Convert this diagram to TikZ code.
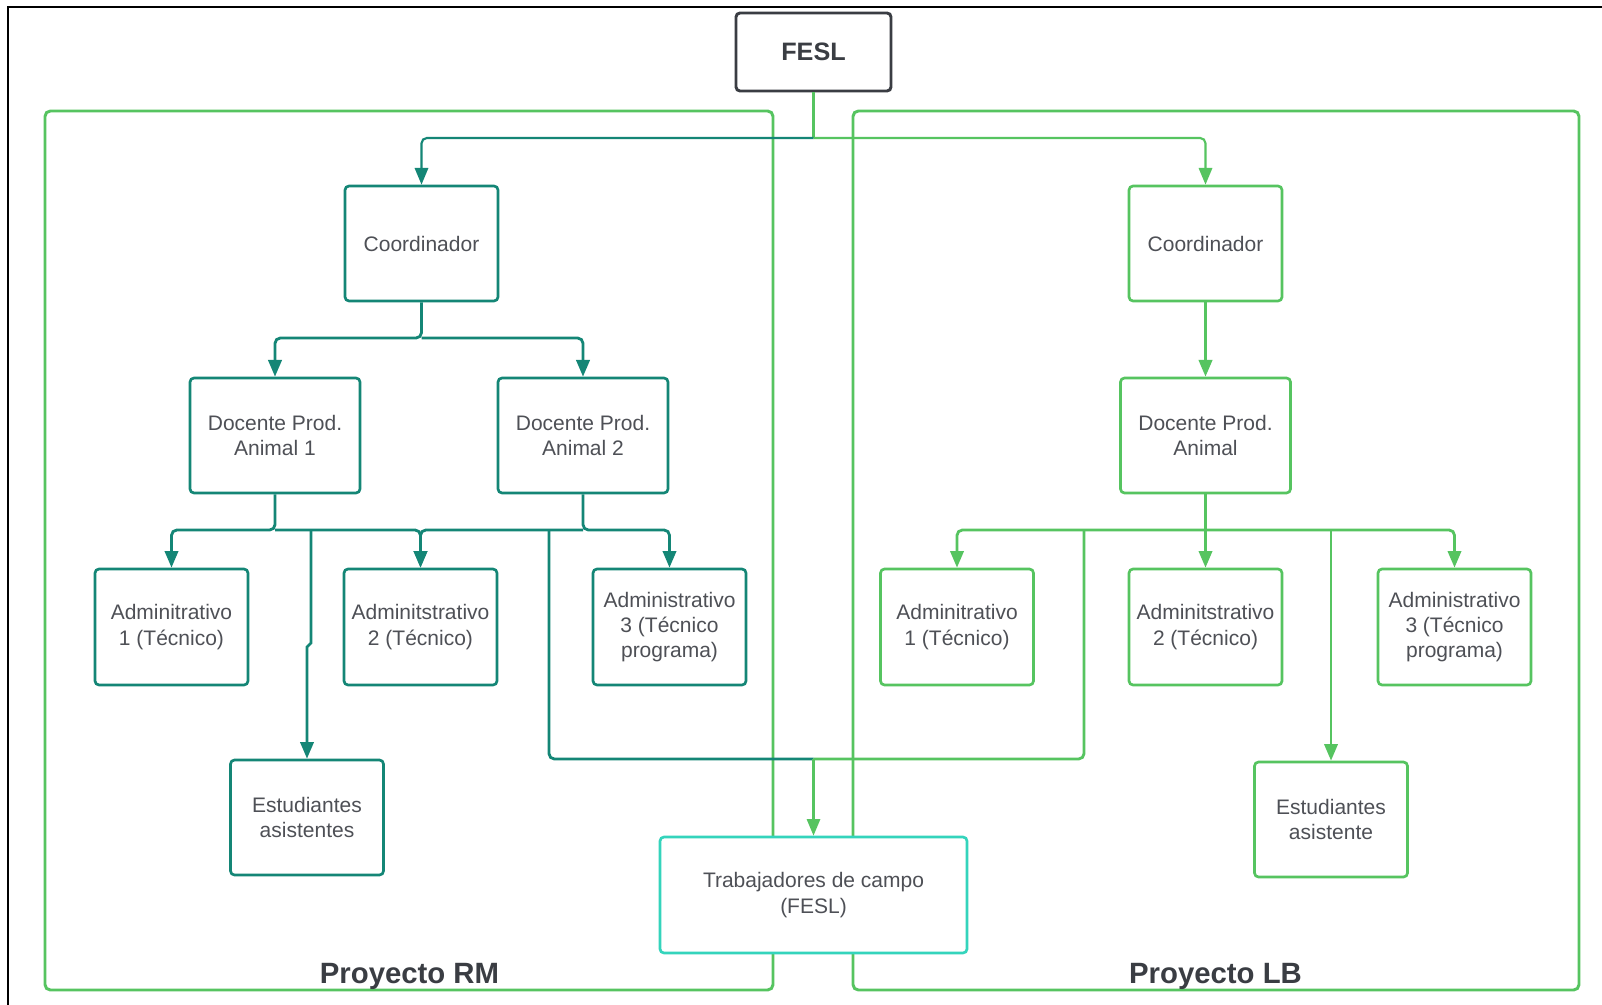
\documentclass[tikz,border=0pt]{standalone}
\usepackage{fontspec}
\setmainfont{Liberation Sans}
\usetikzlibrary{arrows.meta}
\definecolor{tealc}{RGB}{20,134,118}
\definecolor{greenc}{RGB}{86,196,96}
\definecolor{turq}{RGB}{52,212,188}
\definecolor{txtc}{RGB}{78,80,86}
\definecolor{darkc}{RGB}{58,61,67}
\begin{document}
\begin{tikzpicture}[x=0.75pt,y=-0.75pt,
  box/.style={draw, rounded corners=3pt, line width=2pt, fill=white, align=center,
    text=txtc, font=\fontsize{15.75}{19}\selectfont, inner sep=2pt},
  tbox/.style={box, draw=tealc},
  gbox/.style={box, draw=greenc},
  wsmall/.style={minimum width=114.75pt, minimum height=86.25pt},
  wdoc/.style={minimum width=127.5pt, minimum height=86.25pt},
  wadm/.style={minimum width=114.75pt, minimum height=87pt},
  cont/.style={draw=greenc, line width=2.2pt, rounded corners=4pt, inner sep=0pt},
  tl/.style={draw=tealc, line width=2.1pt, rounded corners=4pt},
  gl/.style={draw=greenc, line width=2.1pt, rounded corners=4pt},
  arr/.style={-{Triangle[length=12.5pt,width=10pt]}},
  lbl/.style={text=darkc, font=\fontsize{22}{26}\selectfont\bfseries, anchor=base},
]
\fill[white] (0,0) rectangle (1602,1005);
\useasboundingbox (0,0) rectangle (1602,1005);
\draw[black, line width=1.5pt] (8,1005) -- (8,7) -- (1602,7);

% containers
\node[cont, minimum width=546pt, minimum height=659.25pt] (contL) at (409,550.5) {};
\node[cont, minimum width=544.5pt, minimum height=659.25pt] (contR) at (1216,550.5) {};
\node[lbl] (lblL) at (409.5,983) {Proyecto RM};
\node[lbl] (lblR) at (1215.5,983) {Proyecto LB};

% nodes
\node[box, draw=darkc, line width=2.2pt, minimum width=116.25pt, minimum height=58.5pt,
  text=darkc, font=\fontsize{18.9}{22}\selectfont\bfseries] (fesl) at (813.5,52) {FESL};

\node[tbox, wsmall] (coordL) at (421.5,243.5) {Coordinador};
\node[gbox, wsmall] (coordR) at (1205.5,243.5) {Coordinador};

\node[tbox, wdoc] (doc1) at (275,435.5) {Docente Prod.\\Animal 1};
\node[tbox, wdoc] (doc2) at (583,435.5) {Docente Prod.\\Animal 2};
\node[gbox, wdoc] (docR) at (1205.5,435.5) {Docente Prod.\\Animal};

\node[tbox, wadm] (adm1L) at (171.5,627) {Adminitrativo\\1 (Técnico)};
\node[tbox, wadm] (adm2L) at (420.5,627) {Adminitstrativo\\2 (Técnico)};
\node[tbox, wadm] (adm3L) at (669.5,627) {Administrativo\\3 (Técnico\\programa)};
\node[gbox, wadm] (adm1R) at (957,627) {Adminitrativo\\1 (Técnico)};
\node[gbox, wadm] (adm2R) at (1205.5,627) {Adminitstrativo\\2 (Técnico)};
\node[gbox, wadm] (adm3R) at (1454.5,627) {Administrativo\\3 (Técnico\\programa)};

\node[tbox, wsmall] (estL) at (307,817.5) {Estudiantes\\asistentes};
\node[gbox, wsmall] (estR) at (1331,819.5) {Estudiantes\\asistente};

% coordinates
\coordinate (jf) at (813.5,138);
\coordinate (jc) at (421.5,338);
\coordinate (busL) at (0,530);
\coordinate (jR) at (1205.5,530);
\coordinate (eL) at (311,530);
\coordinate (tL) at (549,530);
\coordinate (tR) at (1084,530);
\coordinate (sR) at (1331,530);
\coordinate (tj) at (813.5,759);

% connectors (under the field-workers box)
\draw[gl, line width=1.6pt] (fesl.south) -- (jf);
\draw[tl, line width=1.6pt, arr] (jf) -| (coordL.north);
\draw[gl, line width=1.6pt, arr] (jf) -| (coordR.north);

\draw[tl, arr] (coordL.south) -- (jc) -| (doc1.north);
\draw[tl, arr] (jc) -| (doc2.north);

\draw[tl, arr] (doc1.south) -- (doc1.south |- busL) -| (adm1L.north);
\draw[tl, arr] (doc1.south |- busL) -| (adm2L.north);
\draw[tl, arr] (doc2.south) -- (doc2.south |- busL) -| (adm3L.north);
\draw[tl, arr] (doc2.south |- busL) -| (adm2L.north);
\draw[tl, arr, rounded corners=0pt] (eL) -- ++(0,113) -- ++(-4,4) -- (estL.north);
\draw[tl] (tL) |- (tj);

\draw[gl, arr] (coordR.south) -- (docR.north);
\draw[gl, arr] (docR.south) -- (adm2R.north);
\draw[gl, arr] (jR) -| (adm1R.north);
\draw[gl, arr] (jR) -| (adm3R.north);
\draw[gl, arr] (sR) -- (estR.north);
\draw[gl] (tR) |- (tj);

\node[box, draw=turq, minimum width=230.25pt, minimum height=87pt] (trab) at (813.5,895)
  {Trabajadores de campo\\(FESL)};
\draw[gl, line width=1.6pt, arr] (tj) -- (trab.north);
\end{tikzpicture}
\end{document}
